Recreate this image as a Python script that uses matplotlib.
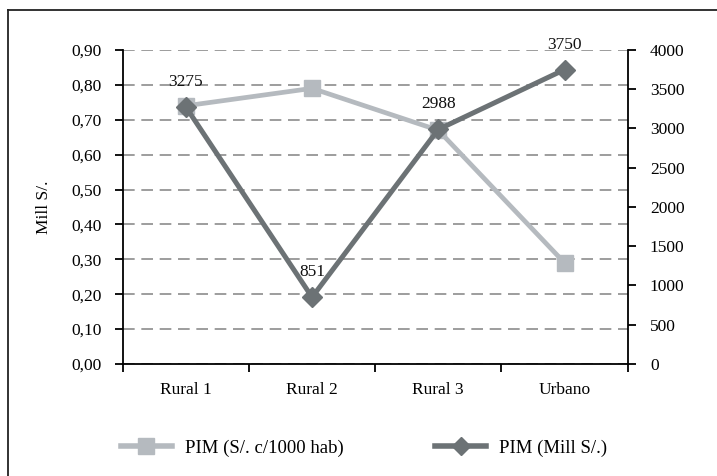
import matplotlib.pyplot as plt
from matplotlib.lines import Line2D

# Data
categories = ["Rural 1", "Rural 2", "Rural 3", "Urbano"]
pim_per_1000 = [0.74, 0.79, 0.67, 0.29]      # PIM (S/. c/1000 hab), left axis
pim_mill = [3275, 851, 2988, 3750]           # PIM (Mill S/.), right axis
left_ticks = [0.0, 0.1, 0.2, 0.3, 0.4, 0.5, 0.6, 0.7, 0.8, 0.9]
right_ticks = [0, 500, 1000, 1500, 2000, 2500, 3000, 3500, 4000]

light = "#b5babf"
dark = "#6c7275"
fs = 12.5

plt.rcParams["font.family"] = ["Liberation Serif", "DejaVu Serif"]

fig = plt.figure(figsize=(7.17, 4.76), dpi=100)
ax = fig.add_axes([0.1711, 0.2353, 0.7043, 0.6597])
ax2 = ax.twinx()

x = list(range(len(categories)))

ax.plot(x, pim_per_1000, color=light, lw=3.4, marker="s", ms=12,
        label="PIM (S/. c/1000 hab)")
ax2.plot(x, pim_mill, color=dark, lw=3.6, marker="D", ms=10.5,
         label="PIM (Mill S/.)")

for xi, v in zip(x, pim_mill):
    ax2.annotate(str(v), (xi, v), xytext=(0, 18), textcoords="offset points",
                 ha="center", va="center", fontsize=fs, color="#111111")

ax.set_xlim(-0.5, len(categories) - 0.5)
ax.set_ylim(0, 0.9)
ax2.set_ylim(0, 4000)

ax.set_yticks(left_ticks)
ax.set_yticklabels([f"{t:.2f}".replace(".", ",") for t in left_ticks], fontsize=fs)
ax2.set_yticks(right_ticks)
ax2.set_yticklabels([str(t) for t in right_ticks], fontsize=fs)

# boundary ticks without labels, category labels at centers
ax.set_xticks([i - 0.5 for i in range(len(categories) + 1)])
ax.set_xticklabels([])
ax.set_xticks(x, minor=True)
ax.set_xticklabels(categories, minor=True, fontsize=fs)
ax.tick_params(axis="x", which="minor", length=0, pad=13)
ax.tick_params(axis="x", which="major", length=6, width=1.3, direction="out")
ax.tick_params(axis="y", length=6, width=1.3, pad=9)
ax2.tick_params(axis="y", length=6, width=1.3, pad=10)

ax.set_ylabel("Mill S/.", fontsize=fs, labelpad=14)

ax.grid(axis="y", color="#8c8c8c", ls=(0, (7, 4)), lw=1.2)
ax.set_axisbelow(True)

for a in (ax, ax2):
    a.spines["top"].set_visible(False)
ax.spines["right"].set_visible(False)
for s in ("left", "bottom"):
    ax.spines[s].set_linewidth(1.3)
ax2.spines["right"].set_linewidth(1.3)
ax2.spines["left"].set_visible(False)
ax2.spines["bottom"].set_visible(False)

handles = [
    Line2D([], [], color=light, lw=4, marker="s", ms=11),
    Line2D([], [], color=dark, lw=4, marker="D", ms=9),
]
fig.legend(handles, ["PIM (S/. c/1000 hab)", "PIM (Mill S/.)"], loc="center",
           bbox_to_anchor=(0.508, 0.058), ncol=2, frameon=False, fontsize=13.5,
           handlelength=2.7, columnspacing=4.9, handletextpad=0.7)

# partial frame around the figure (left and top only)
fig.add_artist(Line2D([0.0105, 0.0105], [0, 0.979], color="#222222", lw=1.3,
                      transform=fig.transFigure))
fig.add_artist(Line2D([0.0105, 1.0], [0.979, 0.979], color="#222222", lw=1.3,
                      transform=fig.transFigure))

fig.savefig("out.png", dpi=100)
